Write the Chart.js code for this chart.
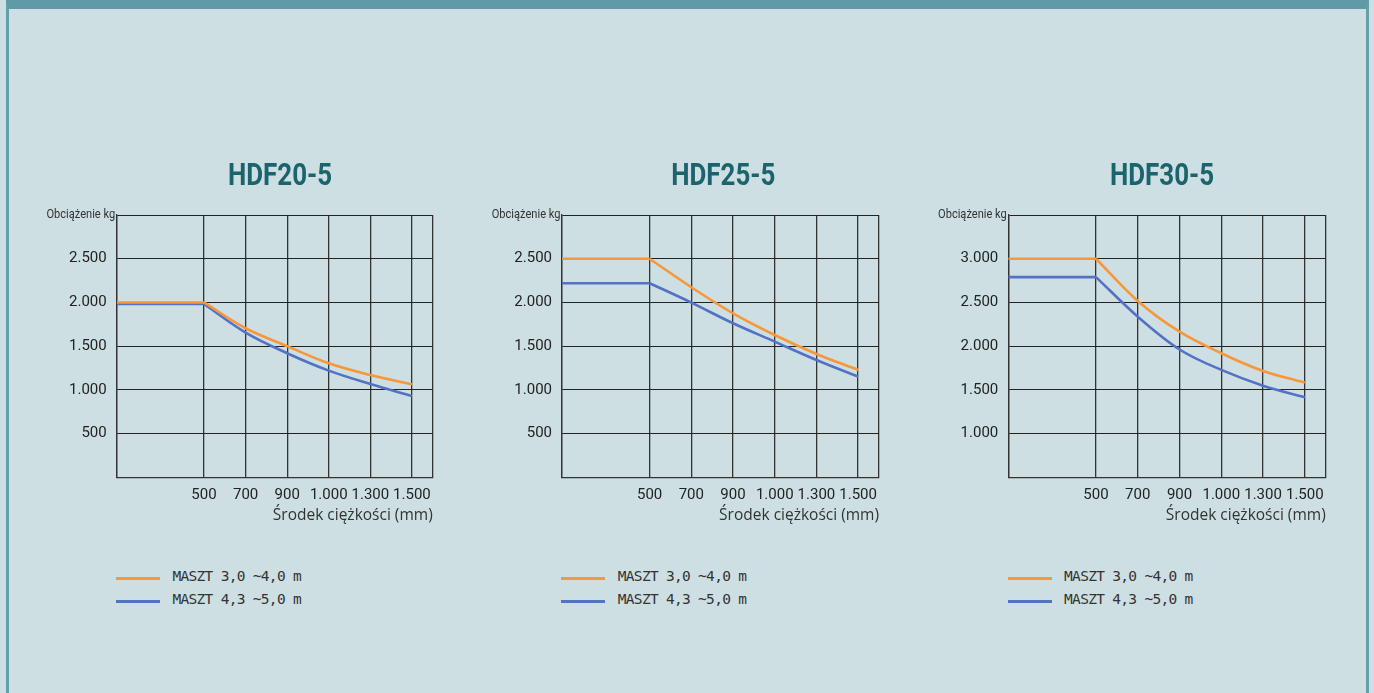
<!DOCTYPE html>
<html>
<head>
<meta charset="utf-8">
<script src="https://cdn.jsdelivr.net/npm/chart.js@4.4.1/dist/chart.umd.min.js"></script>
<style>
  html, body { margin: 0; padding: 0; width: 1374px; height: 693px; overflow: hidden; background: #cddfe2; }
  #frame { position: absolute; left: 6px; top: 0; width: 1363px; height: 720px; box-sizing: border-box;
           border-left: 3px solid #64a0aa; border-right: 3px solid #64a0aa; border-top: 9px solid #5e9ba6; }
  canvas { position: absolute; }
  .legend { position: absolute; font-family: 'DejaVu Sans Mono', monospace; font-size: 14.5px; letter-spacing: -0.7px; color: #333; }
  .legend .row { display: flex; align-items: center; height: 22.7px; }
  .legend .swatch { width: 44px; height: 2.5px; margin-right: 12.5px; position: relative; top: 2.3px; }
</style>
</head>
<body>
<div id="frame"></div>
<script>
// ---- data ----
const xLabels = ['500', '700', '900', '1.000', '1.300', '1.500'];
const seriesLabels = ['MASZT 3,0 ~4,0 m', 'MASZT 4,3 ~5,0 m'];
const chartTitles = ['HDF20-5', 'HDF25-5', 'HDF30-5'];
const yAxisLabel = 'Obciążenie kg';
const xAxisLabel = 'Środek ciężkości (mm)';

const hdf20Mast1 = [2000, 1705, 1500, 1304, 1170, 1064];
const hdf20Mast2 = [1982, 1655, 1419, 1220, 1067, 930];
const hdf25Mast1 = [2500, 2174, 1876, 1628, 1411, 1228];
const hdf25Mast2 = [2220, 1998, 1762, 1552, 1342, 1151];
const hdf30Mast1 = [3000, 2517, 2166, 1919, 1716, 1583];
const hdf30Mast2 = [2790, 2337, 1962, 1728, 1548, 1415];

const yRange20 = [0, 3000];
const yRange25 = [0, 3000];
const yRange30 = [500, 3500];
const yTicks20 = [500, 1000, 1500, 2000, 2500];
const yTicks25 = [500, 1000, 1500, 2000, 2500];
const yTicks30 = [1000, 1500, 2000, 2500, 3000];

// ---- styling / layout ----
const colors = ['#f7973a', '#5272c6'];
const xMin = -2.1, xMax = 5.5;
const narrow = "Roboto, 'Liberation Sans', sans-serif";
const layouts = [
  { plotLeft: 116.7, plotRight: 432.7, titleCenter: 280 },
  { plotLeft: 562, plotRight: 879, titleCenter: 723.3 },
  { plotLeft: 1008.3, plotRight: 1325.7, titleCenter: 1162 }
];
const canvasTop = 150, canvasHeight = 375, plotTop = 215;

function fmt(v) { return String(v).replace(/\B(?=(\d{3})+(?!\d))/g, '.'); }

// condensed-looking texts: chart heading and the load label at the top-left corner
const condensedTexts = {
  id: 'condensedTexts',
  afterDraw(chart, args, opts) {
    const ctx = chart.ctx, a = chart.chartArea;
    ctx.save();
    ctx.font = 'bold 32px ' + narrow;
    ctx.fillStyle = '#1b636d';
    ctx.textAlign = 'center';
    ctx.textBaseline = 'alphabetic';
    ctx.translate(opts.titleX, 35);
    ctx.scale(0.81, 1);
    ctx.fillText(opts.title, 0, 0);
    ctx.restore();
    ctx.save();
    ctx.font = '13.5px ' + narrow;
    ctx.fillStyle = '#333';
    ctx.textAlign = 'right';
    ctx.textBaseline = 'middle';
    ctx.translate(a.left - 1.5, a.top - 0.5);
    ctx.scale(0.82, 1);
    ctx.fillText(yAxisLabel, 0, 0);
    ctx.restore();
  }
};

const charts = [
  { title: chartTitles[0], series: [hdf20Mast1, hdf20Mast2], yRange: yRange20, yTicks: yTicks20 },
  { title: chartTitles[1], series: [hdf25Mast1, hdf25Mast2], yRange: yRange25, yTicks: yTicks25 },
  { title: chartTitles[2], series: [hdf30Mast1, hdf30Mast2], yRange: yRange30, yTicks: yTicks30 }
];

charts.forEach((c, i) => {
  const L = layouts[i];
  const canvasLeft = Math.round(L.plotLeft - 85);
  const yWidth = L.plotLeft - canvasLeft;
  const width = Math.round(L.plotRight - canvasLeft + 30);
  const padRight = canvasLeft + width - L.plotRight;

  const cv = document.createElement('canvas');
  cv.width = width; cv.height = canvasHeight;
  cv.style.left = canvasLeft + 'px'; cv.style.top = canvasTop + 'px';
  cv.style.width = width + 'px'; cv.style.height = canvasHeight + 'px';
  document.body.appendChild(cv);

  const datasets = [];
  c.series.forEach((vals, s) => {
    const common = { borderColor: colors[s], backgroundColor: colors[s], borderWidth: 2.6, pointRadius: 0, fill: false };
    // constant load up to 500 mm
    datasets.push(Object.assign({ label: seriesLabels[s], data: [{ x: xMin, y: vals[0] }, { x: 0, y: vals[0] }], tension: 0 }, common));
    // decreasing load from 500 mm on
    datasets.push(Object.assign({ label: seriesLabels[s], data: vals.map((v, k) => ({ x: k, y: v })), tension: 0.35 }, common));
  });

  new Chart(cv, {
    type: 'line',
    data: { datasets },
    plugins: [condensedTexts],
    options: {
      responsive: false,
      animation: false,
      layout: { padding: { left: 0, right: padRight, top: plotTop - canvasTop, bottom: 0 } },
      plugins: {
        legend: { display: false },
        tooltip: { enabled: false },
        title: { display: false },
        condensedTexts: { title: c.title, titleX: L.titleCenter - canvasLeft }
      },
      scales: {
        x: {
          type: 'linear', min: xMin, max: xMax,
          afterBuildTicks: (sc) => { sc.ticks = [xMin, 0, 1, 2, 3, 4, 5, xMax].map(v => ({ value: v })); },
          afterFit: (sc) => { sc.height = 47.7; },
          ticks: { autoSkip: false, maxRotation: 0, padding: 9, color: '#222',
                   font: { family: narrow, size: 15 },
                   callback: (v) => (Number.isInteger(v) && v >= 0 ? xLabels[v] : '') },
          grid: { color: '#333', lineWidth: 1.3, drawTicks: false },
          border: { color: '#333', width: 1.3 },
          title: { display: true, text: xAxisLabel, align: 'end', color: '#333',
                   font: { family: "'Open Sans', 'Noto Sans', sans-serif", size: 15.5 },
                   padding: { top: 0, bottom: 0 } }
        },
        y: {
          min: c.yRange[0], max: c.yRange[1],
          afterBuildTicks: (sc) => { sc.ticks = [c.yRange[0]].concat(c.yTicks, [c.yRange[1]]).map(v => ({ value: v })); },
          afterFit: (sc) => { sc.width = yWidth; },
          ticks: { autoSkip: false, padding: 10, color: '#222',
                   font: { family: narrow, size: 15 },
                   callback: (v) => (c.yTicks.includes(v) ? fmt(v) : '') },
          grid: { color: '#222', lineWidth: 1, drawTicks: false },
          border: { color: '#333', width: 1.3 }
        }
      }
    }
  });

  // legend
  const lg = document.createElement('div');
  lg.className = 'legend';
  lg.style.left = (L.plotLeft - 0.7) + 'px';
  lg.style.top = '565px';
  seriesLabels.forEach((lab, s) => {
    const row = document.createElement('div');
    row.className = 'row';
    const sw = document.createElement('span');
    sw.className = 'swatch';
    sw.style.background = colors[s];
    const tx = document.createElement('span');
    tx.textContent = lab;
    row.appendChild(sw); row.appendChild(tx);
    lg.appendChild(row);
  });
  document.body.appendChild(lg);
});
</script>
</body>
</html>
